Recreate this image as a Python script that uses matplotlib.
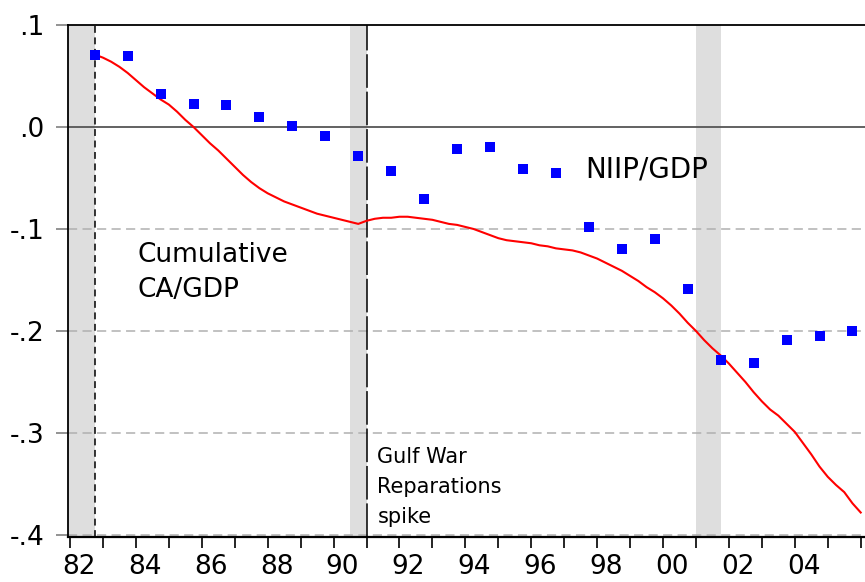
# NIIP/GDP vs cumulative CA/GDP, EViews-style chart
import numpy as np
import matplotlib.pyplot as plt
import matplotlib.transforms as mtransforms

# net international investment position / GDP, year end (1982..2005)
niip_years = list(range(1982, 2006))
niip_gdp = [0.071, 0.070, 0.032, 0.023, 0.022, 0.010, 0.001, -0.009,
            -0.028, -0.043, -0.071, -0.022, -0.020, -0.041, -0.045, -0.098,
            -0.120, -0.110, -0.159, -0.228, -0.231, -0.209, -0.205, -0.200]

# cumulative current account / GDP, quarterly from 1982Q4
ca_start = 1982.75
ca_gdp = [0.071,
          0.068, 0.064, 0.059, 0.053,      # 1983
          0.046, 0.039, 0.033, 0.027,      # 1984
          0.022, 0.015, 0.007, 0.000,      # 1985
          -0.008, -0.016, -0.023, -0.031,  # 1986
          -0.039, -0.047, -0.054, -0.060,  # 1987
          -0.065, -0.069, -0.073, -0.076,  # 1988
          -0.079, -0.082, -0.085, -0.087,  # 1989
          -0.089, -0.091, -0.093, -0.095,  # 1990
          -0.092, -0.090, -0.089, -0.089,  # 1991
          -0.088, -0.088, -0.089, -0.090,  # 1992
          -0.091, -0.093, -0.095, -0.096,  # 1993
          -0.098, -0.100, -0.103, -0.106,  # 1994
          -0.109, -0.111, -0.112, -0.113,  # 1995
          -0.114, -0.116, -0.117, -0.119,  # 1996
          -0.120, -0.121, -0.123, -0.126,  # 1997
          -0.129, -0.133, -0.137, -0.141,  # 1998
          -0.146, -0.151, -0.157, -0.162,  # 1999
          -0.168, -0.175, -0.183, -0.192,  # 2000
          -0.200, -0.209, -0.217, -0.224,  # 2001
          -0.232, -0.241, -0.250, -0.260,  # 2002
          -0.269, -0.277, -0.283, -0.291,  # 2003
          -0.299, -0.310, -0.321, -0.333,  # 2004
          -0.343, -0.351, -0.358, -0.369,  # 2005
          -0.378]

# recession bands
rec_start = [1981.5, 1990.5, 2001.0]
rec_end = [1982.75, 1991.0, 2001.75]

year_ticks = list(range(1982, 2007))
year_labels = ['82', '', '84', '', '86', '', '88', '', '90', '', '92', '', '94', '',
               '96', '', '98', '', '00', '', '02', '', '04', '', '']
y_ticks = [0.1, 0.0, -0.1, -0.2, -0.3, -0.4]
y_labels = ['.1', '.0', '-.1', '-.2', '-.3', '-.4']

plt.rcParams['font.family'] = ['DejaVu Sans']

fig = plt.figure(figsize=(8.65, 5.82), dpi=100)
ax = fig.add_axes([68 / 865, 1 - 537 / 582, (865 - 68) / 865, (537 - 25) / 582])

ax.set_xlim(1981.94, 2006.13)
ax.set_ylim(-0.402, 0.1)

for s, e in zip(rec_start, rec_end):
    ax.axvspan(s, e, color='#dedede', lw=0, zorder=0)

for v in y_ticks[2:]:
    ax.axhline(v, color='#b0b0b0', lw=1.1, ls=(0, (6, 3.5)), zorder=1)
ax.axhline(0.0, color='#555555', lw=1.3, zorder=1)

ax.axvline(1982.75, color='black', lw=1.1, ls=(0, (4.5, 3)), zorder=2)
ax.axvline(1991.0, color='black', lw=1.1, dashes=(22, 2.5), zorder=2)

x_ca = ca_start + 0.25 * np.arange(len(ca_gdp))
ax.plot(x_ca, ca_gdp, color='red', lw=1.5, zorder=3)

x_niip = np.array(niip_years) + 0.75
ax.plot(x_niip, niip_gdp, ls='none', marker='s', ms=7, color='blue',
        markeredgewidth=0, zorder=4)

# annotations (baseline placed)
ax.text(1984.06, -0.1324, 'Cumulative', fontsize=19, va='baseline', ha='left')
ax.text(1984.06, -0.1667, 'CA/GDP', fontsize=19, va='baseline', ha='left')
ax.text(1997.63, -0.0500, 'NIIP/GDP', fontsize=20, va='baseline', ha='left')
for txt, yb in zip(['Gulf War', 'Reparations', 'spike'], [-0.3294, -0.3588, -0.3882]):
    ax.text(1991.33, yb, txt, fontsize=15, va='baseline', ha='left')

# axes styling
for side in ['right', 'bottom']:
    ax.spines[side].set_visible(False)
ax.spines['top'].set_linewidth(1.3)
ax.spines['left'].set_linewidth(1.3)
ax.axhline(-0.402, color='black', lw=1.6, zorder=5, clip_on=False)

ax.set_yticks(y_ticks)
ax.set_yticklabels(y_labels, fontsize=19)
ax.tick_params(axis='y', length=9, width=1.2, color='#808080', pad=8)

ax.set_xticks(year_ticks)
ax.set_xticklabels(year_labels, fontsize=19)
ax.tick_params(axis='x', length=8, width=1.2, color='black', pad=4)
shift = mtransforms.ScaledTranslation(9 / 100, 0, fig.dpi_scale_trans)
for lab in ax.get_xticklabels():
    lab.set_transform(lab.get_transform() + shift)

fig.savefig('out.png', dpi=100)
